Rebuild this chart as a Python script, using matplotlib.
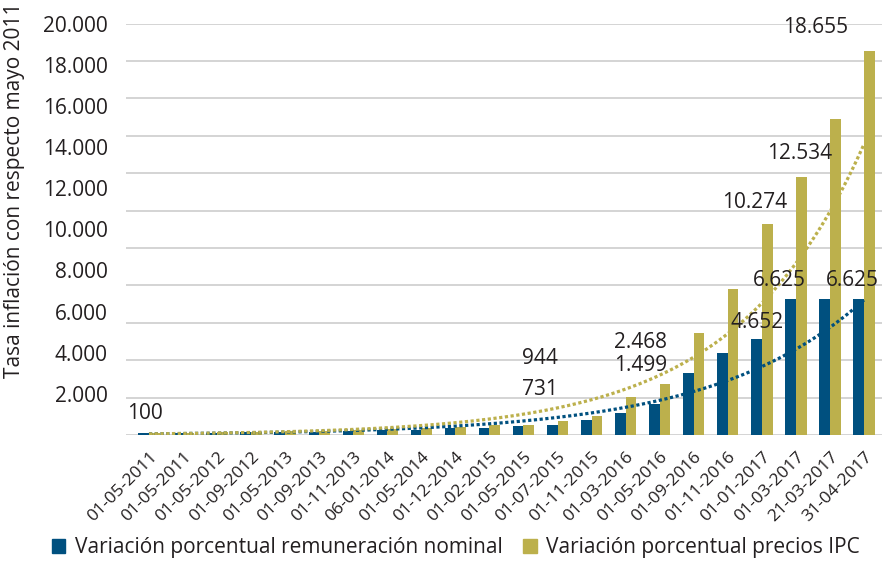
import numpy as np
import matplotlib
matplotlib.use("Agg")
import matplotlib.pyplot as plt
from matplotlib.patches import Patch

plt.rcParams['font.family'] = ['Open Sans', 'DejaVu Sans']

fechas = ['01-05-2011', '01-05-2011', '01-05-2012', '01-09-2012', '01-05-2013',
          '01-09-2013', '01-11-2013', '06-01-2014', '01-05-2014', '01-12-2014',
          '01-02-2015', '01-05-2015', '01-07-2015', '01-11-2015', '01-03-2016',
          '01-05-2016', '01-09-2016', '01-11-2016', '01-01-2017', '01-03-2017',
          '21-03-2017', '31-04-2017']
remuneracion = [100, 100, 120, 125, 150, 160, 200, 220, 260, 330, 340, 450,
                480, 731, 1050, 1499, 3010, 3976, 4652, 6625, 6625, 6625]
ipc = [100, 115, 135, 155, 175, 200, 260, 280, 320, 400, 470, 510,
       692, 944, 1850, 2468, 4942, 7116, 10274, 12534, 15348, 18655]

serie_rem = 'Variación porcentual remuneración nominal'
serie_ipc = 'Variación porcentual precios IPC'

AZUL = '#00507f'
OLIVA = '#bcb04c'
GRIS = '#d4d4d4'
TEXTO = '#231f20'

# (serie, indice, x, y) placement of the value labels
etiquetas = [
    ('ipc', 0, -0.12, 1068),
    ('ipc', 13, 11.48, 3738),
    ('rem', 13, 11.48, 2233),
    ('ipc', 15, 14.45, 4515),
    ('rem', 15, 14.45, 3398),
    ('ipc', 18, 17.80, 11311),
    ('ipc', 19, 19.12, 13689),
    ('ipc', 21, 19.59, 19806),
    ('rem', 19, 18.53, 7524),
    ('rem', 21, 20.65, 7524),
    ('rem', 18, 17.86, 5485),
]


def miles(v):
    return f"{v:,}".replace(",", ".")


fig = plt.figure(figsize=(8.82, 5.64), dpi=100)
ax = fig.add_axes([126 / 882, 129 / 564, 756 / 882, 411.5 / 564])

x = np.arange(len(fechas))
w = 0.314
ax.bar(x - w / 2, remuneracion, w, color=AZUL, zorder=2)
ax.bar(x + w / 2, ipc, w, color=OLIVA, zorder=2)

# exponential trend lines fitted on log values
xs = np.linspace(0, len(fechas) - 1, 300)
for serie, color in ((remuneracion, AZUL), (ipc, OLIVA)):
    b, a = np.polyfit(x, np.log(serie), 1)
    ax.plot(xs, np.exp(a + b * xs), color=color, lw=2.3,
            linestyle=(0, (1, 0.8)), dash_capstyle='butt', zorder=3)

for k in range(12):
    ax.axhline(20000 * k / 11, color=GRIS, lw=1.4, zorder=1)

datos = {'rem': remuneracion, 'ipc': ipc}
for serie, i, tx, ty in etiquetas:
    ax.text(tx, ty, miles(datos[serie][i]), ha='center', va='center',
            fontsize=15, color=TEXTO, zorder=4)

ax.set_xlim(-0.675, 21.53)
ax.set_ylim(0, 20000)
ax.set_yticks(range(2000, 20001, 2000))
ax.set_yticklabels([miles(v) for v in range(2000, 20001, 2000)])
ax.set_xticks(x)
ax.set_xticklabels(fechas, rotation=45, ha='right', rotation_mode='anchor')
ax.tick_params(axis='y', length=0, pad=13, labelsize=15, labelcolor=TEXTO)
ax.tick_params(axis='x', length=0, pad=10, labelsize=12.5, labelcolor=TEXTO)
for s in ax.spines.values():
    s.set_visible(False)

fig.text(15 / 882, 1 - 378 / 564, 'Tasa inflación con respecto mayo 2011',
         rotation=90, ha='center', va='bottom', fontsize=15, color=TEXTO)

handles = [Patch(color=AZUL, label=serie_rem), Patch(color=OLIVA, label=serie_ipc)]
fig.legend(handles=handles, loc='center', bbox_to_anchor=(456 / 882, 1 - 548 / 564),
           ncol=2, frameon=False, fontsize=15, handlelength=0.65, handleheight=0.65,
           handletextpad=0.45, columnspacing=1.0, labelcolor=TEXTO)

fig.savefig('out.png', dpi=100)
